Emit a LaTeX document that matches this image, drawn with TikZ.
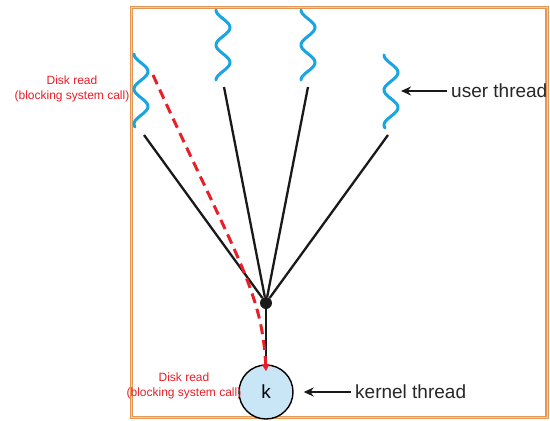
\documentclass[tikz,border=0pt]{standalone}
\usepackage{fontspec}
\setmainfont{Liberation Sans}
\usetikzlibrary{arrows.meta}
\definecolor{frameorange}{RGB}{228,150,85}
\definecolor{framelight}{RGB}{245,210,165}
\definecolor{threadblue}{RGB}{25,165,225}
\definecolor{kernelblue}{RGB}{200,230,245}
\definecolor{readred}{RGB}{232,30,40}
\tikzset{
	thread/.style={threadblue,line width=3pt,line cap=round},
	link/.style={black!90,line width=2.3pt},
	pointer/.style={black!90,line width=2pt,-{Stealth[length=10pt,width=9pt]}},
	redlabel/.style={readred,font=\fontsize{12}{14.5}\selectfont,align=center,inner sep=0pt},
	biglabel/.style={black!85,font=\fontsize{19}{22}\selectfont,inner sep=0pt}
}
\begin{document}
\begin{tikzpicture}[x=1pt,y=-1pt]
		\useasboundingbox (0,0) rectangle (550,421);
		\draw[frameorange,line width=3.2pt] (131.5,7.5) rectangle (547,417.5);
		\draw[framelight,line width=0.7pt] (131.5,7.5) rectangle (547,417.5);
		% user threads
		\draw[thread] plot[domain=0:73,samples=70] ({141-7*cos(10.2857*\x)},{54+\x});
		\draw[thread] plot[domain=0:70,samples=70] ({223-7*cos(10.2857*\x)},{10+\x});
		\draw[thread] plot[domain=0:70,samples=70] ({308-7*cos(10.2857*\x)},{10+\x});
		\draw[thread] plot[domain=0:73,samples=70] ({391-7*cos(10.2857*\x)},{55+\x});
		\coordinate (t1) at (144,135);
		\coordinate (t2) at (224,87);
		\coordinate (t3) at (308,87);
		\coordinate (t4) at (388,135);
		\coordinate (u4) at (401,91);
		% kernel side
		\node[circle,fill=black!90,inner sep=0pt,minimum size=12pt] (j) at (266,303) {};
		\node[circle,draw,line width=1.4pt,fill=kernelblue,minimum size=54pt,inner sep=0pt,
			font=\fontsize{19}{22}\selectfont] (k) at (266,392) {k};
		\draw[link] (t1) -- (j);
		\draw[link] (t2) -- (j);
		\draw[link] (t3) -- (j);
		\draw[link] (t4) -- (j);
		\draw[link] (j) -- (k);
		% blocking call
		\coordinate (d) at (153,75);
		\draw[readred,line width=3pt,dash pattern=on 10pt off 6pt,-{Triangle[length=7pt,width=7pt]}]
			(d) .. controls (235,255) and (262,290) .. ([yshift=-7pt]k.north);
		\node[redlabel] (r1) at (72,89) {Disk read\\(blocking system call)};
		\node[redlabel] (r2) at (184,386) {Disk read\\(blocking system call)};
		% labels
		\node[biglabel,anchor=west] (ut) at (451,91) {user thread};
		\node[biglabel,anchor=west] (kt) at (355,392) {kernel thread};
		\draw[pointer] ([xshift=-4pt]ut.west) -- (u4);
		\draw[pointer] ([xshift=-4pt]kt.west) -- ([xshift=10pt]k.east);
	\end{tikzpicture}
\end{document}
